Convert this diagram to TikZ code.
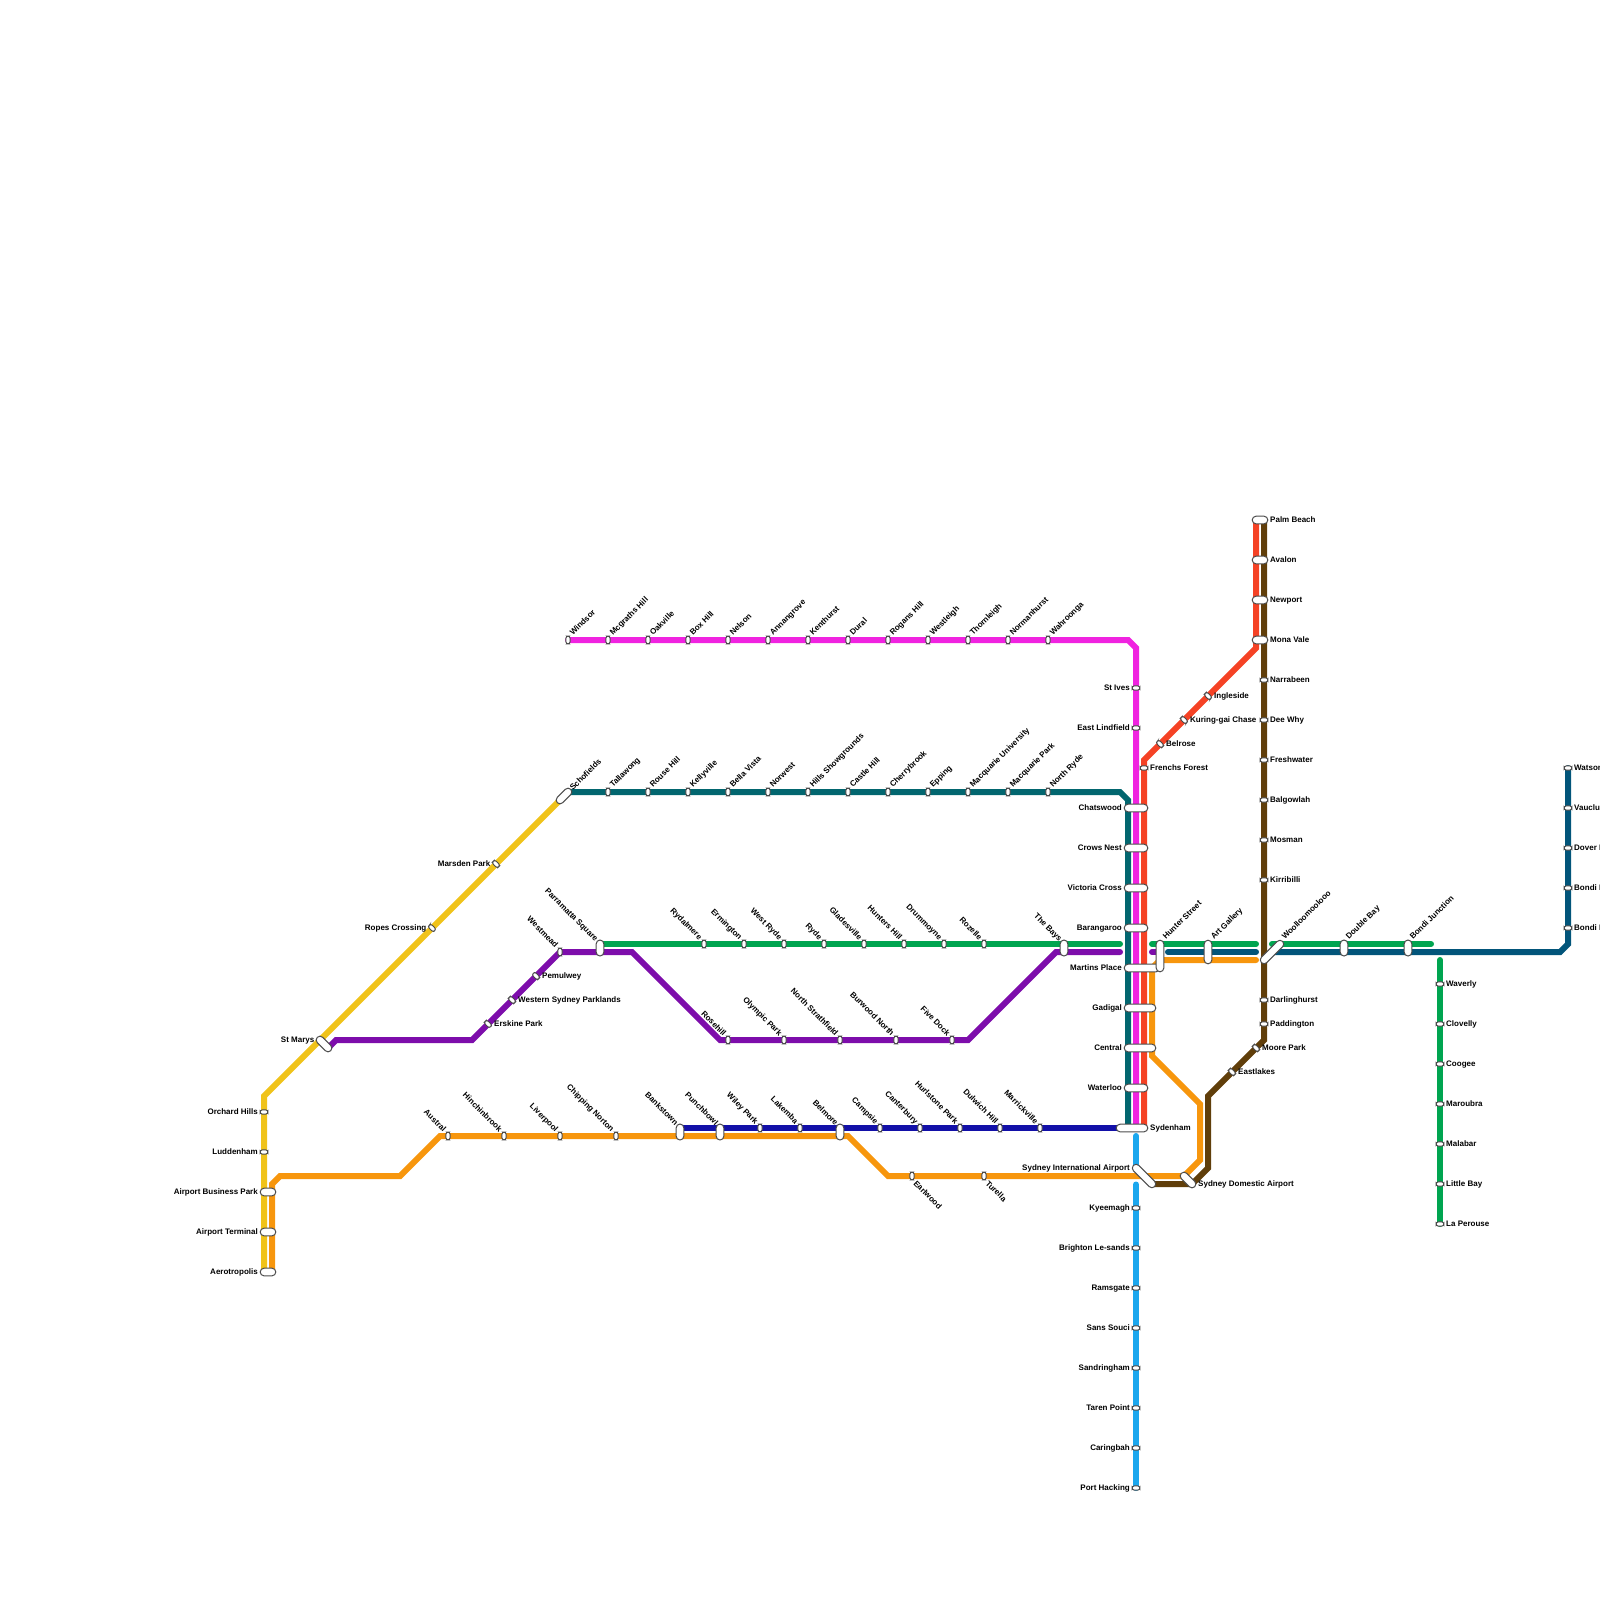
\documentclass[tikz,border=0pt]{standalone}
\usepackage{fontspec}
\setmainfont{Liberation Sans}
\usetikzlibrary{backgrounds}
\definecolor{cYel}{HTML}{F0C31A}
\definecolor{cOra}{HTML}{F7960D}
\definecolor{cPur}{HTML}{7D0DAB}
\definecolor{cMag}{HTML}{F023E0}
\definecolor{cTea}{HTML}{02666F}
\definecolor{cRed}{HTML}{F54225}
\definecolor{cBro}{HTML}{603E0A}
\definecolor{cGre}{HTML}{00A550}
\definecolor{cNav}{HTML}{02557A}
\definecolor{cBlu}{HTML}{1210A8}
\definecolor{cSky}{HTML}{1BA7EE}
\tikzset{
  metro/.style={line width=6pt,line cap=round,line join=miter,miter limit=4},
  small/.style={draw=black!70,fill=white,line width=1pt,inner sep=0pt,minimum width=7.6pt,minimum height=4.2pt,rounded corners=2.1pt},
  smallv/.style={small,rotate=90},
  smalld/.style={small,rotate=-45},
  big/.style={draw=black!70,fill=white,line width=1pt,inner sep=0pt,minimum width=#1,minimum height=7.6pt,rounded corners=3.8pt},
  lab/.style={inner sep=0pt,text height=5.6pt,text depth=0pt,font=\fontsize{8}{8}\selectfont\bfseries,text=black},
  lr/.style={lab,anchor=west},
  ll/.style={lab,anchor=east},
  lur/.style={lab,anchor=west,rotate=45},
  lul/.style={lab,anchor=east,rotate=-45},
  ldr/.style={lab,anchor=west,rotate=-45},
}
\begin{document}
\begin{tikzpicture}[x=1pt,y=-1pt]
\useasboundingbox (0,0) rectangle (1600,1600);
% stations on the magenta line
\foreach \n/\x/\t in {m1/568/Windsor,m2/608/Mcgraths Hill,m3/648/Oakville,m4/688/Box Hill,m5/728/Nelson,m6/768/Annangrove,m7/808/Kenthurst,m8/848/Dural,m9/888/Rogans Hill,m10/928/Westleigh,m11/968/Thornleigh,m12/1008/Normanhurst,m13/1048/Wahroonga}{
  \node[smallv] (\n) at (\x,640) {};
  \node[lur] (l\n) at (\x+3,640-6) {\t};
}
% teal
\foreach \n/\x/\t in {t2/608/Tallawong,t3/648/Rouse Hill,t4/688/Kellyville,t5/728/Bella Vista,t6/768/Norwest,t7/808/Hills Showgrounds,t8/848/Castle Hill,t9/888/Cherrybrook,t10/928/Epping,t11/968/Macquarie University,t12/1008/Macquarie Park,t13/1048/North Ryde}{
  \node[smallv] (\n) at (\x,792) {};
  \node[lur] (l\n) at (\x+3,792-6) {\t};
}
\node[big=19pt,rotate=45] (schofields) at (564,796) {};
\node[lur] (lschofields) at (571,789) {Schofields};
% green
\foreach \n/\x/\t in {g1/704/Rydalmere,g2/744/Ermington,g3/784/West Ryde,g4/824/Ryde,g5/864/Gladesville,g6/904/Hunters Hill,g7/944/Drummoyne,g8/984/Rozelle}{
  \node[smallv] (\n) at (\x,944) {};
  \node[lul] (l\n) at (\x-3,944-5.5) {\t};
}
\node[big=16pt,rotate=90] (parramatta) at (600,948) {};
\node[lul] (lparramatta) at (597,940) {Parramatta Square};
\node[big=16pt,rotate=90] (thebays) at (1064,948) {};
\node[lul] (lthebays) at (1061,940) {The Bays};
% purple
\foreach \n/\x/\t in {p1/728/Rosehill,p2/784/Olympic Park,p3/840/North Strathfield,p4/896/Burwood North,p5/952/Five Dock}{
  \node[smallv] (\n) at (\x,1040) {};
  \node[lul] (l\n) at (\x-3,1040-5.5) {\t};
}
\node[smallv] (westmead) at (560,952) {};
\node[lul] (lwestmead) at (557,946) {Westmead};
\node[smalld] (pemulwey) at (536,976) {};
\node[lr] (lpemulwey) at (542,976) {Pemulwey};
\node[smalld] (wsp) at (512,1000) {};
\node[lr] (lwsp) at (518,1000) {Western Sydney Parklands};
\node[smalld] (erskine) at (488,1024) {};
\node[lr] (lerskine) at (494,1024) {Erskine Park};
\node[big=19pt,rotate=-45] (stmarys) at (324,1044) {};
\node[ll] (lstmarys) at (314.5,1040) {St Marys};
% dark blue
\foreach \n/\x/\t in {b3/760/Wiley Park,b4/800/Lakemba,b6/880/Campsie,b7/920/Canterbury,b8/960/Hurlstone Park,b9/1000/Dulwich Hill,b10/1040/Marrickville}{
  \node[smallv] (\n) at (\x,1128) {};
  \node[lul] (l\n) at (\x-3,1128-5.5) {\t};
}
\foreach \n/\x/\t in {bankstown/680/Bankstown,punchbowl/720/Punchbowl,belmore/840/Belmore}{
  \node[big=16pt,rotate=90] (\n) at (\x,1132) {};
  \node[lul] (l\n) at (\x-3,1124) {\t};
}
% orange upper
\foreach \n/\x/\t in {o1/448/Austral,o2/504/Hinchinbrook,o3/560/Liverpool,o4/616/Chipping Norton}{
  \node[smallv] (\n) at (\x,1136) {};
  \node[lul] (l\n) at (\x-3,1136-5.5) {\t};
}
\foreach \n/\x/\t in {earlwood/912/Earlwood,turella/984/Turella}{
  \node[smallv] (\n) at (\x,1176) {};
  \node[ldr] (l\n) at (\x+3,1176+6) {\t};
}
% yellow
\node[small] (orchard) at (264,1112) {};
\node[ll] (lorchard) at (258,1112) {Orchard Hills};
\node[small] (luddenham) at (264,1152) {};
\node[ll] (lluddenham) at (258,1152) {Luddenham};
\foreach \n/\y/\t in {abp/1192/Airport Business Park,aterm/1232/Airport Terminal,aero/1272/Aerotropolis}{
  \node[big=15.6pt] (\n) at (268,\y) {};
  \node[ll] (l\n) at (258,\y) {\t};
}
\node[smalld] (marsden) at (496,864) {};
\node[ll] (lmarsden) at (490.5,864) {Marsden Park};
\node[smalld] (ropes) at (432,928) {};
\node[ll] (lropes) at (426.5,928) {Ropes Crossing};
% central trunk
\node[small] (stives) at (1136,688) {};
\node[ll] (lstives) at (1130,688) {St Ives};
\node[small] (lindfield) at (1136,728) {};
\node[ll] (llindfield) at (1130,728) {East Lindfield};
\foreach \n/\y/\t in {chatswood/808/Chatswood,crows/848/Crows Nest,victoria/888/Victoria Cross,barangaroo/928/Barangaroo,waterloo/1088/Waterloo}{
  \node[big=23.6pt] (\n) at (1136,\y) {};
  \node[ll] (l\n) at (1122,\y) {\t};
}
\node[big=35.6pt] (martins) at (1142,968) {};
\node[ll] (lmartins) at (1122,968) {Martins Place};
\node[big=31.6pt] (gadigal) at (1140,1008) {};
\node[ll] (lgadigal) at (1122,1008) {Gadigal};
\node[big=31.6pt] (central) at (1140,1048) {};
\node[ll] (lcentral) at (1122,1048) {Central};
\node[big=31.6pt] (sydenham) at (1132,1128) {};
\node[lr] (lsydenham) at (1150,1128) {Sydenham};
\node[big=30pt,rotate=-45] (intl) at (1144,1176) {};
\node[ll] (lintl) at (1130,1168) {Sydney International Airport};
\node[big=19pt,rotate=-45] (domestic) at (1188,1180) {};
\node[lr] (ldomestic) at (1198,1184) {Sydney Domestic Airport};
% sky
\foreach \n/\y/\t in {k1/1208/Kyeemagh,k2/1248/Brighton Le-sands,k3/1288/Ramsgate,k4/1328/Sans Souci,k5/1368/Sandringham,k6/1408/Taren Point,k7/1448/Caringbah,k8/1488/Port Hacking}{
  \node[small] (\n) at (1136,\y) {};
  \node[ll] (l\n) at (1130,\y) {\t};
}
% red branch
\node[small] (frenchs) at (1144,768) {};
\node[lr] (lfrenchs) at (1150,768) {Frenchs Forest};
\node[smalld] (belrose) at (1160,744) {};
\node[lr] (lbelrose) at (1166,744) {Belrose};
\node[smalld] (kuring) at (1184,720) {};
\node[lr] (lkuring) at (1190,720) {Kuring-gai Chase};
\node[smalld] (ingleside) at (1208,696) {};
\node[lr] (lingleside) at (1214,696) {Ingleside};
% north
\foreach \n/\y/\t in {palm/520/Palm Beach,avalon/560/Avalon,newport/600/Newport,mona/640/Mona Vale}{
  \node[big=15.6pt] (\n) at (1260,\y) {};
  \node[lr] (l\n) at (1270,\y) {\t};
}
\foreach \n/\y/\t in {narrabeen/680/Narrabeen,deewhy/720/Dee Why,fresh/760/Freshwater,balgowlah/800/Balgowlah,mosman/840/Mosman,kirribilli/880/Kirribilli,darling/1000/Darlinghurst,paddington/1024/Paddington}{
  \node[small] (\n) at (1264,\y) {};
  \node[lr] (l\n) at (1270,\y) {\t};
}
\node[smalld] (moore) at (1256,1048) {};
\node[lr] (lmoore) at (1262,1048) {Moore Park};
\node[smalld] (eastlakes) at (1232,1072) {};
\node[lr] (leastlakes) at (1238,1072) {Eastlakes};
% east-west pills
\node[big=31.6pt,rotate=90] (hunter) at (1160,956) {};
\node[lur] (lhunter) at (1164,938) {Hunter Street};
\node[big=23.6pt,rotate=90] (artgallery) at (1208,952) {};
\node[lur] (lartgallery) at (1212,938) {Art Gallery};
\node[big=30pt,rotate=45] (woolloo) at (1272,952) {};
\node[lur] (lwoolloo) at (1283,938) {Woolloomoolooo};
\node[big=16pt,rotate=90] (doublebay) at (1344,948) {};
\node[lur] (ldoublebay) at (1347,938) {Double Bay};
\node[big=16pt,rotate=90] (bondijn) at (1408,948) {};
\node[lur] (lbondijn) at (1411,938) {Bondi Junction};
% east
\foreach \n/\y/\t in {e1/768/Watsons Bay,e2/808/Vaucluse,e3/848/Dover Heights,e4/888/Bondi Beach,e5/928/Bondi Road}{
  \node[small] (\n) at (1568,\y) {};
  \node[lr] (l\n) at (1574,\y) {\t};
}
\foreach \n/\y/\t in {w1/984/Waverly,w2/1024/Clovelly,w3/1064/Coogee,w4/1104/Maroubra,w5/1144/Malabar,w6/1184/Little Bay,w7/1224/La Perouse}{
  \node[small] (\n) at (1440,\y) {};
  \node[lr] (l\n) at (1446,\y) {\t};
}
% waypoints
\coordinate (ya) at (264,1272);\coordinate (yb) at (264,1096);\coordinate (yc) at (560,800);
\coordinate (oa) at (272,1184);\coordinate (ob) at (280,1176);\coordinate (oc) at (400,1176);\coordinate (od) at (440,1136);\coordinate (oe) at (848,1136);\coordinate (of) at (888,1176);\coordinate (og) at (1184,1176);\coordinate (oh) at (1200,1160);\coordinate (oi) at (1200,1104);\coordinate (oj) at (1152,1056);\coordinate (ok) at (1152,968);\coordinate (ol) at (1160,960);\coordinate (om) at (1256,960);\coordinate (oz) at (272,1272);
\coordinate (pa) at (328,1048);\coordinate (pb) at (336,1040);\coordinate (pc) at (472,1040);\coordinate (pd) at (632,952);\coordinate (pe) at (720,1040);\coordinate (pf) at (968,1040);\coordinate (pg) at (1056,952);\coordinate (ph) at (1120,952);\coordinate (pi) at (1152,952);
\coordinate (ma) at (1128,640);\coordinate (mb) at (1136,648);\coordinate (mc) at (1136,1128);
\coordinate (ta) at (568,792);\coordinate (tb) at (1120,792);\coordinate (tc) at (1128,800);\coordinate (td) at (1128,1128);
\coordinate (ra) at (1256,520);\coordinate (rb) at (1256,648);\coordinate (rc) at (1144,760);\coordinate (rd) at (1144,1128);
\coordinate (ba) at (1264,520);\coordinate (bb) at (1264,1040);\coordinate (bc) at (1208,1096);\coordinate (bd) at (1208,1168);\coordinate (be) at (1192,1184);\coordinate (bf) at (1152,1184);
\coordinate (ga) at (600,944);\coordinate (gb) at (1120,944);\coordinate (gc) at (1152,944);\coordinate (gd) at (1256,944);\coordinate (ge) at (1272,944);\coordinate (gf) at (1431,944);
\coordinate (na) at (1168,952);\coordinate (nb) at (1256,952);\coordinate (nc) at (1272,952);\coordinate (nd) at (1560,952);\coordinate (ne) at (1568,944);
\coordinate (da) at (680,1128);\coordinate (db) at (1128,1128);
\coordinate (sa) at (1136,1136);\coordinate (sb) at (1136,1168);\coordinate (sc) at (1136,1184.5);
\coordinate (wa) at (1440,960);
\begin{pgfonlayer}{background}
\draw[metro,cYel] (ya)--(yb)--(yc);
\draw[metro,cOra] (oz)--(oa)--(ob)--(oc)--(od)--(oe)--(of)--(og)--(oh)--(oi)--(oj)--(ok)--(ol)--(om);
\draw[metro,cSky] (sa)--(sb);
\draw[metro,cSky] (sc)--(k8.center);
\draw[metro,cPur] (pa)--(pb)--(pc)--(westmead.center)--(pd)--(pe)--(pf)--(pg)--(ph);
\draw[metro,cPur] (pi)--(hunter.center|-pi);
\draw[metro,cMag] (m1.center)--(ma)--(mb)--(mc);
\draw[metro,cTea] (ta)--(tb)--(tc)--(td);
\draw[metro,cRed] (ra)--(rb)--(rc)--(rd);
\draw[metro,cBro] (ba)--(bb)--(bc)--(bd)--(be)--(bf);
\draw[metro,cGre] (ga)--(gb);
\draw[metro,cGre] (gc)--(gd);
\draw[metro,cGre] (ge)--(gf);
\draw[metro,cNav] (na)--(nb);
\draw[metro,cNav] (nc)--(nd)--(ne)--(e1.center);
\draw[metro,cBlu] (da)--(db);
\draw[metro,cGre] (wa)--(w7.center);
\end{pgfonlayer}
\end{tikzpicture}
\end{document}
